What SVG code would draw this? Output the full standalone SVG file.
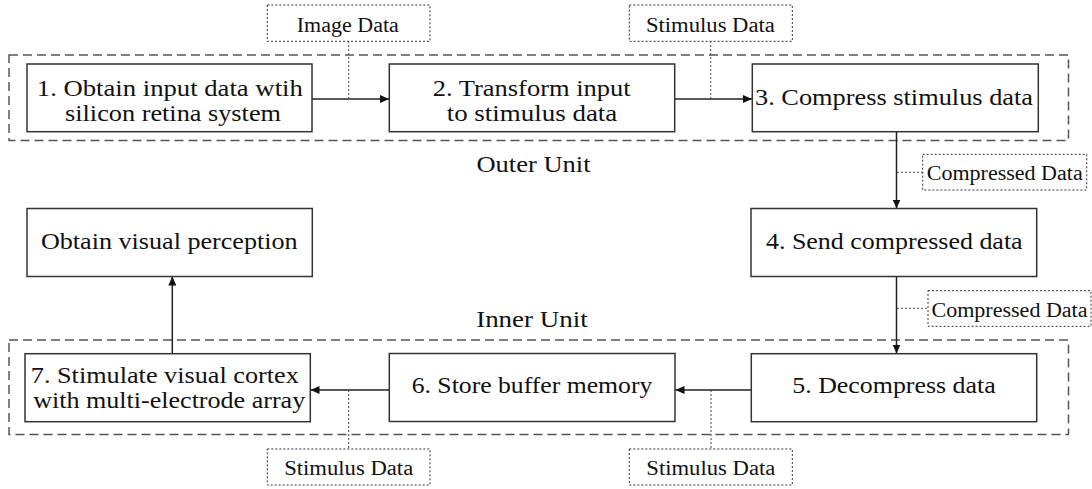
<svg xmlns="http://www.w3.org/2000/svg" width="1092" height="489" viewBox="0 0 1092 489">
<style>
  .bg{fill:#fff}
  .node rect{fill:#fff;stroke:#333;stroke-width:1.5}
  .t{font-size:23.5px;fill:#111;text-anchor:middle}
  .lbl rect{fill:#fff;stroke:#333;stroke-width:1;stroke-dasharray:2,2}
  .lt{font-size:20px;fill:#111;text-anchor:middle}
  .unit{fill:none;stroke:#555;stroke-width:1.5;stroke-dasharray:9,5}
  .ut{font-size:23.5px;fill:#111;text-anchor:middle}
  .arr{fill:none;stroke:#222;stroke-width:1.5;marker-end:url(#ah)}
  .dot{fill:none;stroke:#444;stroke-width:1;stroke-dasharray:2,2}
</style>
<defs>
  <marker id="ah" markerWidth="10" markerHeight="8" refX="9" refY="4" orient="auto" markerUnits="userSpaceOnUse">
    <path d="M0,0 L9,4 L0,8 Z" fill="#111"/>
  </marker>
</defs>
<rect class="bg" x="0" y="0" width="1092" height="489"/>

<g font-family="Liberation Serif, Times New Roman, Tinos, DejaVu Serif, serif">
<g id="outer-unit">
  <rect class="unit" x="9" y="55" width="1059.5" height="85.5"/>
  <text class="ut" x="533.5" y="172" textLength="114" lengthAdjust="spacingAndGlyphs">Outer Unit</text>
</g>
<g id="inner-unit">
  <rect class="unit" x="9" y="340" width="1059.5" height="94.5"/>
  <text class="ut" x="532" y="327" textLength="111.7" lengthAdjust="spacingAndGlyphs">Inner Unit</text>
</g>

<g id="connectors">
  <line class="arr" x1="312" y1="99" x2="389" y2="99"/>
  <line class="arr" x1="675" y1="99" x2="752" y2="99"/>
  <line class="arr" x1="896.5" y1="131.5" x2="896.5" y2="208.5"/>
  <line class="arr" x1="896.5" y1="276.5" x2="896.5" y2="353.5"/>
  <line class="arr" x1="751" y1="390" x2="675.5" y2="390"/>
  <line class="arr" x1="389" y1="390" x2="310.5" y2="390"/>
  <line class="arr" x1="172.3" y1="353.5" x2="172.3" y2="276.5"/>
  <line class="dot" x1="348.7" y1="41" x2="348.7" y2="99"/>
  <line class="dot" x1="710.7" y1="41" x2="710.7" y2="99"/>
  <line class="dot" x1="897" y1="172.3" x2="922.7" y2="172.3"/>
  <line class="dot" x1="897" y1="308.3" x2="928" y2="308.3"/>
  <line class="dot" x1="711" y1="390" x2="711" y2="449"/>
  <line class="dot" x1="348.7" y1="390" x2="348.7" y2="449"/>
</g>

<g id="n1" class="node">
  <rect x="27" y="64" width="285" height="67.7"/>
  <text class="t" x="169.8" y="96" textLength="266" lengthAdjust="spacingAndGlyphs">1. Obtain input data wtih</text>
  <text class="t" x="173" y="121" textLength="216" lengthAdjust="spacingAndGlyphs">silicon retina system</text>
</g>
<g id="n2" class="node">
  <rect x="389.3" y="64" width="285.4" height="67.7"/>
  <text class="t" x="531.7" y="95.5" textLength="198" lengthAdjust="spacingAndGlyphs">2. Transform input</text>
  <text class="t" x="532" y="120.5" textLength="170.6" lengthAdjust="spacingAndGlyphs">to stimulus data</text>
</g>
<g id="n3" class="node">
  <rect x="752.3" y="64" width="286" height="67.7"/>
  <text class="t" x="894" y="104.5" textLength="278" lengthAdjust="spacingAndGlyphs">3. Compress stimulus data</text>
</g>
<g id="n4" class="node">
  <rect x="751" y="208.5" width="285.7" height="68"/>
  <text class="t" x="894.3" y="249.3" textLength="256.7" lengthAdjust="spacingAndGlyphs">4. Send compressed data</text>
</g>
<g id="n5" class="node">
  <rect x="751.3" y="353.7" width="285.4" height="68"/>
  <text class="t" x="894" y="392.7" textLength="203.4" lengthAdjust="spacingAndGlyphs">5. Decompress data</text>
</g>
<g id="n6" class="node">
  <rect x="389.3" y="353.5" width="285.7" height="68"/>
  <text class="t" x="532" y="392.7" textLength="240.6" lengthAdjust="spacingAndGlyphs">6. Store buffer memory</text>
</g>
<g id="n7" class="node">
  <rect x="25" y="353.7" width="285.3" height="68"/>
  <text class="t" x="164.8" y="383.3" textLength="268" lengthAdjust="spacingAndGlyphs">7. Stimulate visual cortex</text>
  <text class="t" x="169.2" y="408.3" textLength="272" lengthAdjust="spacingAndGlyphs">with multi-electrode array</text>
</g>
<g id="n8" class="node">
  <rect x="27" y="208.5" width="285.3" height="68"/>
  <text class="t" x="169.3" y="249.3" textLength="256.7" lengthAdjust="spacingAndGlyphs">Obtain visual perception</text>
</g>

<g id="l1" class="lbl">
  <rect x="267.3" y="5" width="162.7" height="36.3"/>
  <text class="lt" x="347.8" y="31.5" textLength="102" lengthAdjust="spacingAndGlyphs">Image Data</text>
</g>
<g id="l2" class="lbl">
  <rect x="629.3" y="5" width="163" height="36.3"/>
  <text class="lt" x="710.4" y="31.5" textLength="129" lengthAdjust="spacingAndGlyphs">Stimulus Data</text>
</g>
<g id="l3" class="lbl">
  <rect x="922.7" y="154.3" width="164" height="35.7"/>
  <text class="lt" x="1004.7" y="179.5" textLength="156" lengthAdjust="spacingAndGlyphs">Compressed Data</text>
</g>
<g id="l4" class="lbl">
  <rect x="928" y="290.7" width="163" height="35.6"/>
  <text class="lt" x="1009.5" y="316.5" textLength="156" lengthAdjust="spacingAndGlyphs">Compressed Data</text>
</g>
<g id="l5" class="lbl">
  <rect x="267.3" y="449" width="162.7" height="36"/>
  <text class="lt" x="348.7" y="475" textLength="129" lengthAdjust="spacingAndGlyphs">Stimulus Data</text>
</g>
<g id="l6" class="lbl">
  <rect x="629.3" y="449" width="163" height="36"/>
  <text class="lt" x="710.8" y="475" textLength="129" lengthAdjust="spacingAndGlyphs">Stimulus Data</text>
</g>
</g>
</svg>
